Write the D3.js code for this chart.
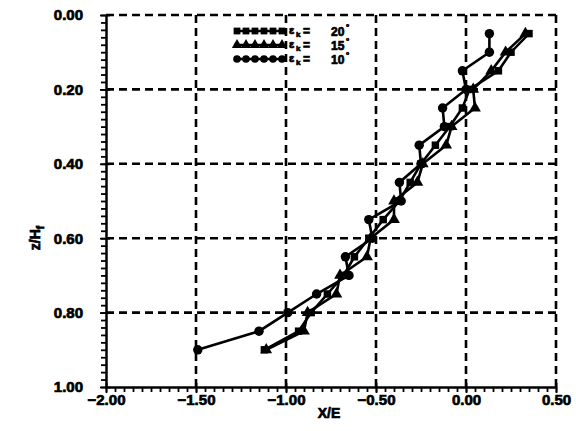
<!DOCTYPE html>
<html>
<head>
<meta charset="utf-8">
<script src="https://cdn.jsdelivr.net/npm/d3@7"></script>
<style>
  body { margin: 0; background: #fff; }
  text { font-family: "Liberation Sans", Arial, sans-serif; font-weight: bold; fill: #000; stroke: #000; stroke-width: 0.7px; }
  .tick text { font-size: 15px; }
  .domain { stroke: #000; stroke-width: 2.5px; }
  .tick line { stroke: #000; stroke-width: 1.8px; }
  .grid { stroke: #000; stroke-width: 2.6px; stroke-dasharray: 8 5; fill: none; }
</style>
</head>
<body>
<div id="chart"></div>
<script>
// depth levels (z/Hf) shared by all three runs
var zLevels = [0.05, 0.10, 0.15, 0.20, 0.25, 0.30, 0.35, 0.40, 0.45, 0.50, 0.55, 0.60, 0.65, 0.70, 0.75, 0.80, 0.85, 0.90];

// X/E
var x20 = [0.35, 0.25, 0.18, 0.02, -0.02, -0.09, -0.17, -0.25, -0.31, -0.37, -0.46, -0.54, -0.62, -0.68, -0.77, -0.86, -0.93, -1.12];
var x15 = [0.33, 0.22, 0.14, 0.04, 0.05, -0.08, -0.11, -0.24, -0.27, -0.40, -0.40, -0.53, -0.55, -0.70, -0.72, -0.88, -0.90, -1.11];
var x10 = [0.13, 0.13, -0.02, 0.00, -0.13, -0.12, -0.26, -0.25, -0.37, -0.36, -0.54, -0.52, -0.67, -0.65, -0.83, -0.99, -1.15, -1.49];

var legendLabels = ["20", "15", "10"];
var xTicks = [-2.0, -1.5, -1.0, -0.5, 0.0, 0.5];
var yTicks = [0.0, 0.2, 0.4, 0.6, 0.8, 1.0];

document.addEventListener("DOMContentLoaded", function() {
    var w = 576, h = 431;
    var left = 106, right = 556, top = 15, bottom = 387;

    var svg = d3.select("#chart").append("svg")
        .attr("width", w)
        .attr("height", h);

    var xScale = d3.scaleLinear().domain([-2, 0.5]).range([left, right]);
    var yScale = d3.scaleLinear().domain([0, 1]).range([top, bottom]);

    // dashed grid, plus dashed top and right frame
    svg.selectAll("line.vgrid")
        .data([-1.5, -1.0, -0.5, 0.0, 0.5])
        .enter().append("line")
        .attr("class", "grid")
        .attr("x1", d => xScale(d)).attr("x2", d => xScale(d))
        .attr("y1", top).attr("y2", bottom);

    svg.selectAll("line.hgrid")
        .data([0.0, 0.2, 0.4, 0.6, 0.8])
        .enter().append("line")
        .attr("class", "grid")
        .attr("y1", d => yScale(d)).attr("y2", d => yScale(d))
        .attr("x1", left).attr("x2", right);

    // minor ticks
    svg.append("g")
        .attr("transform", `translate(0, ${bottom})`)
        .call(d3.axisBottom(xScale).tickValues(d3.range(-2, 0.5001, 0.05)).tickSize(5).tickFormat(""))
        .call(g => g.select(".domain").remove());

    svg.append("g")
        .attr("transform", `translate(${left}, 0)`)
        .call(d3.axisLeft(yScale).tickValues(d3.range(0, 1.0001, 0.02)).tickSize(5).tickFormat(""))
        .call(g => g.select(".domain").remove());

    // main axes
    svg.append("g")
        .attr("transform", `translate(0, ${bottom})`)
        .call(d3.axisBottom(xScale).tickValues(xTicks).tickSize(6).tickSizeOuter(0).tickPadding(1).tickFormat(d3.format(".2f")))
        .call(g => g.selectAll(".tick line").attr("y1", -4));

    svg.append("g")
        .attr("transform", `translate(${left}, 0)`)
        .call(d3.axisLeft(yScale).tickValues(yTicks).tickSize(6).tickSizeOuter(0).tickPadding(17).tickFormat(d3.format(".2f")))
        .call(g => g.selectAll(".tick line").attr("x1", 4));

    // axis titles
    svg.append("text")
        .attr("x", (left + right) / 2 - 2).attr("y", 418)
        .attr("text-anchor", "middle")
        .style("font-size", "14px")
        .text("X/E");

    var yt = svg.append("text")
        .attr("transform", "translate(40, 238) rotate(-90)")
        .attr("text-anchor", "middle")
        .style("font-size", "14px");
    yt.append("tspan").text("z/H");
    yt.append("tspan").attr("dy", 4).style("font-size", "10px").text("f");

    // series
    var series = [
        { xs: x20, sym: d3.symbolSquare, size: 56 },
        { xs: x15, sym: d3.symbolTriangle, size: 60 },
        { xs: x10, sym: d3.symbolCircle, size: 70 }
    ];

    var line = d3.line()
        .x(d => xScale(d[0]))
        .y(d => yScale(d[1]));

    series.forEach(function(s) {
        var pts = s.xs.map((x, i) => [x, zLevels[i]]);
        svg.append("path")
            .datum(pts)
            .attr("d", line)
            .attr("fill", "none")
            .attr("stroke", "#000")
            .attr("stroke-width", 2.6);
        svg.selectAll(null)
            .data(pts)
            .enter().append("path")
            .attr("d", d3.symbol().type(s.sym).size(s.size))
            .attr("transform", d => `translate(${xScale(d[0])}, ${yScale(d[1])})`)
            .attr("fill", "#000");
    });

    // legend
    var legY = [31, 45, 59];
    series.forEach(function(s, i) {
        var g = svg.append("g");
        g.append("line")
            .attr("x1", 234).attr("x2", 284)
            .attr("y1", legY[i]).attr("y2", legY[i])
            .attr("stroke", "#000").attr("stroke-width", 2.5);
        g.selectAll(null)
            .data(d3.range(6))
            .enter().append("path")
            .attr("d", d3.symbol().type(s.sym).size(46))
            .attr("transform", k => `translate(${237 + k * 9}, ${legY[i]})`);
        g.append("text").attr("x", 289).attr("y", legY[i] + 3)
            .style("font-size", "11px").text("\u03b5");
        g.append("text").attr("x", 296).attr("y", legY[i] + 6)
            .style("font-size", "8px").text("k");
        g.append("text").attr("x", 303).attr("y", legY[i] + 4)
            .style("font-size", "12px").text("=");
        g.append("text").attr("x", 331).attr("y", legY[i] + 5)
            .style("font-size", "12px").text(legendLabels[i]);
        g.append("text").attr("x", 346).attr("y", legY[i] - 1)
            .style("font-size", "8px").text("\u00b0");
    });
});
</script>
</body>
</html>
